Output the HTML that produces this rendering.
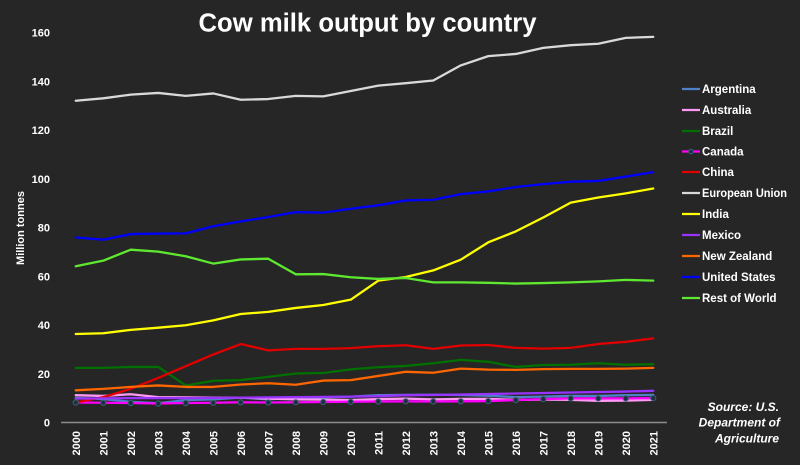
<!DOCTYPE html>
<html><head><meta charset="utf-8"><style>
html,body{margin:0;padding:0;background:#262626;}
svg{display:block;}
text{font-family:"Liberation Sans",sans-serif;font-weight:bold;fill:#fff;}
</style></head><body>
<svg width="800" height="465" viewBox="0 0 800 465" xmlns="http://www.w3.org/2000/svg">
<rect width="800" height="465" fill="#262626"/>
<text x="198.5" y="31.7" font-size="25.5" textLength="338" lengthAdjust="spacingAndGlyphs">Cow milk output by country</text>

<!-- y tick labels -->
<g font-size="11" text-anchor="end">
<text x="50" y="36.5">160</text>
<text x="50" y="85.3">140</text>
<text x="50" y="134">120</text>
<text x="50" y="182.8">100</text>
<text x="50" y="231.5">80</text>
<text x="50" y="280.3">60</text>
<text x="50" y="329">40</text>
<text x="50" y="377.8">20</text>
<text x="50" y="426.5">0</text>
</g>
<text transform="translate(24,228) rotate(-90)" font-size="11" text-anchor="middle">Million tonnes</text>

<!-- axis -->
<line x1="61" y1="422.5" x2="667" y2="422.5" stroke="#8c8c8c" stroke-width="1.5"/>

<!-- x labels -->
<g font-size="11" text-anchor="end">
<text transform="translate(79.75,431) rotate(-90)">2000</text>
<text transform="translate(107.25,431) rotate(-90)">2001</text>
<text transform="translate(134.75,431) rotate(-90)">2002</text>
<text transform="translate(162.25,431) rotate(-90)">2003</text>
<text transform="translate(189.75,431) rotate(-90)">2004</text>
<text transform="translate(217.25,431) rotate(-90)">2005</text>
<text transform="translate(244.75,431) rotate(-90)">2006</text>
<text transform="translate(272.25,431) rotate(-90)">2007</text>
<text transform="translate(299.75,431) rotate(-90)">2008</text>
<text transform="translate(327.25,431) rotate(-90)">2009</text>
<text transform="translate(354.75,431) rotate(-90)">2010</text>
<text transform="translate(382.25,431) rotate(-90)">2011</text>
<text transform="translate(409.75,431) rotate(-90)">2012</text>
<text transform="translate(437.25,431) rotate(-90)">2013</text>
<text transform="translate(464.75,431) rotate(-90)">2014</text>
<text transform="translate(492.25,431) rotate(-90)">2015</text>
<text transform="translate(519.75,431) rotate(-90)">2016</text>
<text transform="translate(547.25,431) rotate(-90)">2017</text>
<text transform="translate(574.75,431) rotate(-90)">2018</text>
<text transform="translate(602.25,431) rotate(-90)">2019</text>
<text transform="translate(629.75,431) rotate(-90)">2020</text>
<text transform="translate(657.25,431) rotate(-90)">2021</text>
</g>

<!-- series -->
<g transform="translate(75.75,422.5) scale(27.5,-2.4375)" fill="none" stroke-width="2.3" stroke-linejoin="round" stroke-linecap="round">
<polyline vector-effect="non-scaling-stroke" stroke="#4f81c8" points="0,10.1 1,9.6 2,8.5 3,7.9 4,9.2 5,9.5 6,10.2 7,9.5 8,10.1 9,10.3 10,10.6 11,11.2 12,11.3 13,11.4 14,11.3 15,11.0 16,10.4 17,10.6 18,10.9 19,10.9 20,11.2 21,11.3"/>
<polyline vector-effect="non-scaling-stroke" stroke="#ff99f5" points="0,11.2 1,10.9 2,11.6 3,10.4 4,10.3 5,10.2 6,10.2 7,9.8 8,9.5 9,9.4 10,9.2 11,9.6 12,9.8 13,9.5 14,9.7 15,9.7 16,9.3 17,9.4 18,9.3 19,8.9 20,9.0 21,9.3"/>
<polyline vector-effect="non-scaling-stroke" stroke="#007000" points="0,22.4 1,22.4 2,22.8 3,22.8 4,15.2 5,17.1 6,17.4 7,18.7 8,20.1 9,20.3 10,21.8 11,22.7 12,23.2 13,24.3 14,25.7 15,24.9 16,22.8 17,23.6 18,23.7 19,24.3 20,23.7 21,23.9"/>
<polyline vector-effect="non-scaling-stroke" stroke="#ff00ff" points="0,8.2 1,8.1 2,8.0 3,7.8 4,8.0 5,8.1 6,8.3 7,8.2 8,8.3 9,8.4 10,8.5 11,8.6 12,8.7 13,8.6 14,8.7 15,8.8 16,9.2 17,9.6 18,9.9 19,9.9 20,9.9 21,10.0"/>
<polyline vector-effect="non-scaling-stroke" stroke="#e00000" points="0,8.2 1,10.4 2,13.8 3,18.3 4,23.1 5,27.9 6,32.2 7,29.6 8,30.2 9,30.2 10,30.5 11,31.3 12,31.7 13,30.2 14,31.6 15,31.8 16,30.6 17,30.3 18,30.6 19,32.2 20,33.1 21,34.5"/>
<polyline vector-effect="non-scaling-stroke" stroke="#d9d9d9" points="0,132 1,133 2,134.5 3,135.2 4,134 5,135 6,132.4 7,132.7 8,134 9,133.8 10,136 11,138.2 12,139.2 13,140.3 14,146.5 15,150.3 16,151.2 17,153.7 18,154.8 19,155.4 20,157.8 21,158.2"/>
<polyline vector-effect="non-scaling-stroke" stroke="#ffff00" points="0,36.3 1,36.6 2,38.0 3,38.9 4,39.9 5,41.9 6,44.5 7,45.4 8,47.0 9,48.2 10,50.4 11,58.2 12,59.7 13,62.4 14,66.8 15,73.9 16,78.4 17,84.1 18,90.2 19,92.3 20,94.0 21,96.0"/>
<polyline vector-effect="non-scaling-stroke" stroke="#9933ff" points="0,9.8 1,9.9 2,10.0 3,10.0 4,10.0 5,10.1 6,10.2 7,10.3 8,10.4 9,10.5 10,10.6 11,10.8 12,11.2 13,11.3 14,11.5 15,11.7 16,11.9 17,12.1 18,12.3 19,12.5 20,12.7 21,13.0"/>
<polyline vector-effect="non-scaling-stroke" stroke="#ff6600" points="0,13.2 1,13.8 2,14.6 3,15.2 4,14.6 5,14.6 6,15.6 7,16.1 8,15.5 9,17.2 10,17.4 11,19.1 12,20.8 13,20.4 14,22.1 15,21.7 16,21.6 17,21.9 18,22.0 19,22.0 20,22.1 21,22.4"/>
<polyline vector-effect="non-scaling-stroke" stroke="#0000ff" points="0,75.9 1,75.0 2,77.3 3,77.5 4,77.6 5,80.5 6,82.5 7,84.3 8,86.3 9,86.1 10,87.7 11,89.1 12,91.1 13,91.4 14,93.7 15,94.8 16,96.6 17,97.8 18,98.8 19,99.1 20,100.9 21,102.7"/>
<polyline vector-effect="non-scaling-stroke" stroke="#5ee830" points="0,64.1 1,66.4 2,70.9 3,70.1 4,68.2 5,65.2 6,66.9 7,67.2 8,60.8 9,60.9 10,59.6 11,58.9 12,59.3 13,57.5 14,57.5 15,57.3 16,57.0 17,57.2 18,57.5 19,57.9 20,58.5 21,58.2"/>
</g>

<!-- Canada markers -->
<g fill="#1d2f3f" stroke="#3d6275" stroke-width="1">
<circle cx="75.75" cy="402.5" r="2.6"/>
<circle cx="103.25" cy="402.8" r="2.6"/>
<circle cx="130.75" cy="403" r="2.6"/>
<circle cx="158.25" cy="403.5" r="2.6"/>
<circle cx="185.75" cy="403" r="2.6"/>
<circle cx="213.25" cy="402.8" r="2.6"/>
<circle cx="240.75" cy="402.3" r="2.6"/>
<circle cx="268.25" cy="402.5" r="2.6"/>
<circle cx="295.75" cy="402.3" r="2.6"/>
<circle cx="323.25" cy="402" r="2.6"/>
<circle cx="350.75" cy="401.8" r="2.6"/>
<circle cx="378.25" cy="401.5" r="2.6"/>
<circle cx="405.75" cy="401.3" r="2.6"/>
<circle cx="433.25" cy="401.5" r="2.6"/>
<circle cx="460.75" cy="401.3" r="2.6"/>
<circle cx="488.25" cy="401.1" r="2.6"/>
<circle cx="515.75" cy="400.1" r="2.6"/>
<circle cx="543.25" cy="399.1" r="2.6"/>
<circle cx="570.75" cy="398.4" r="2.6"/>
<circle cx="598.25" cy="398.4" r="2.6"/>
<circle cx="625.75" cy="398.4" r="2.6"/>
<circle cx="653.25" cy="398.1" r="2.6"/>
</g>

<!-- legend -->
<g stroke-width="2.3">
<line x1="682" y1="89" x2="700" y2="89" stroke="#4f81c8"/>
<line x1="682" y1="110" x2="700" y2="110" stroke="#ff99f5"/>
<line x1="682" y1="131" x2="700" y2="131" stroke="#007000"/>
<line x1="682" y1="151.5" x2="700" y2="151.5" stroke="#ff00ff"/>
<line x1="682" y1="172" x2="700" y2="172" stroke="#e00000"/>
<line x1="682" y1="193" x2="700" y2="193" stroke="#d9d9d9"/>
<line x1="682" y1="214" x2="700" y2="214" stroke="#ffff00"/>
<line x1="682" y1="235" x2="700" y2="235" stroke="#9933ff"/>
<line x1="682" y1="256" x2="700" y2="256" stroke="#ff6600"/>
<line x1="682" y1="277" x2="700" y2="277" stroke="#0000ff"/>
<line x1="682" y1="298" x2="700" y2="298" stroke="#5ee830"/>
</g>
<circle cx="691" cy="151.5" r="2.3" fill="#1d2f3f" stroke="#3d6275" stroke-width="1"/>
<g font-size="11.5">
<text x="702" y="93">Argentina</text>
<text x="702" y="114">Australia</text>
<text x="702" y="135">Brazil</text>
<text x="702" y="155.5">Canada</text>
<text x="702" y="176">China</text>
<text x="702" y="197" textLength="85" lengthAdjust="spacingAndGlyphs">European Union</text>
<text x="702" y="218">India</text>
<text x="702" y="239">Mexico</text>
<text x="702" y="260">New Zealand</text>
<text x="702" y="281">United States</text>
<text x="702" y="302">Rest of World</text>
</g>

<!-- source -->
<g font-size="12" font-style="italic" text-anchor="end">
<text x="779" y="411">Source: U.S.</text>
<text x="780" y="426.5">Department of</text>
<text x="779" y="442.5">Agriculture</text>
</g>
</svg>
</body></html>
